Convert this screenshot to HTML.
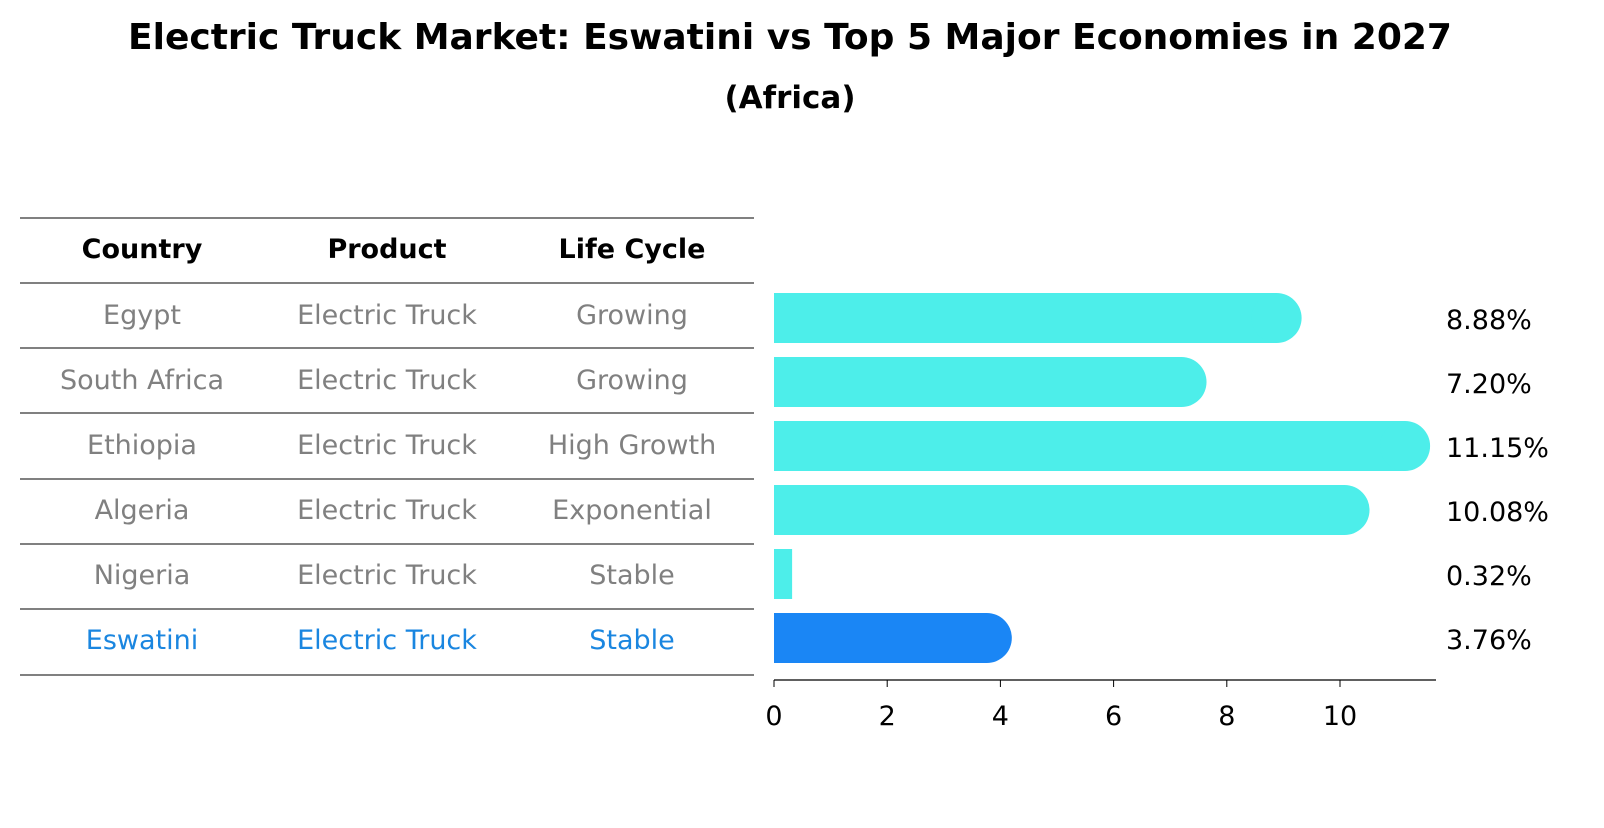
<!DOCTYPE html>
<html><head><meta charset="utf-8"><style>
body{margin:0;background:#fff;width:1604px;height:823px;overflow:hidden;font-family:"Liberation Sans","DejaVu Sans",sans-serif}
</style></head><body>
<svg width="1604" height="823" xmlns="http://www.w3.org/2000/svg">
<text x="790" y="49" text-anchor="middle" font-size="36" font-weight="bold" font-family="DejaVu Sans, sans-serif">Electric Truck Market: Eswatini vs Top 5 Major Economies in 2027</text>
<text x="790" y="108" text-anchor="middle" font-size="31" font-weight="bold" font-family="DejaVu Sans, sans-serif">(Africa)</text>
<g id="table"></g>
<g id="bars"></g>
</svg>
<script>
const countries=["Egypt","South Africa","Ethiopia","Algeria","Nigeria","Eswatini"];
const products=["Electric Truck","Electric Truck","Electric Truck","Electric Truck","Electric Truck","Electric Truck"];
const lifecycles=["Growing","Growing","High Growth","Exponential","Stable","Stable"];
const values=[8.88,7.20,11.15,10.08,0.32,3.76];
const ticks=[0,2,4,6,8,10];
const NS="http://www.w3.org/2000/svg";
const FONT="DejaVu Sans, sans-serif";
const FS=27;
function mk(t,a,p){const e=document.createElementNS(NS,t);for(const k in a)e.setAttribute(k,a[k]);p.appendChild(e);return e;}
const tbl=document.getElementById('table');
const lineYs=[218,283,348,413,479,544,609,675];
lineYs.forEach(y=>{const l=mk('line',{x1:20,x2:754,y1:y,y2:y,stroke:'#000','stroke-width':1},tbl);

});
const colX=[142,387,632];
["Country","Product","Life Cycle"].forEach((h,i)=>{const t=mk('text',{x:colX[i],y:258,'text-anchor':'middle','font-size':FS,'font-weight':'bold','font-family':FONT},tbl);t.textContent=h;

});
const rowY=i=>315+i*65;
countries.forEach((c,i)=>{const col=i===countries.length-1?'#1a86e0':'#808080';
[c,products[i],lifecycles[i]].forEach((s,j)=>{const t=mk('text',{x:colX[j],y:rowY(i)+9,'text-anchor':'middle','font-size':FS,fill:col,'font-family':FONT},tbl);t.textContent=s;

});});
const g=document.getElementById('bars');
const x0=774,sc=56.6;const xs=v=>x0+v*sc;
const barY=i=>318+i*64;const bh=50;
values.forEach((v,i)=>{const col=i===values.length-1?'#1a86f5':'#4deeea';
const r=mk('rect',{x:x0,y:barY(i)-bh/2,width:xs(v)-x0,height:bh,fill:col},g);


if(v>=1){const c=mk('circle',{cx:xs(v),cy:barY(i),r:bh/2,fill:col},g);

}
const t=mk('text',{x:1446,y:barY(i)+11,'font-size':FS,'font-family':FONT},g);t.textContent=v.toFixed(2)+'%';

});
const ax=mk('line',{x1:x0,x2:1436,y1:680,y2:680,stroke:'#000','stroke-width':1.2},g);


ticks.forEach(tv=>{const l=mk('line',{x1:xs(tv),x2:xs(tv),y1:680,y2:687,stroke:'#000'},g);


const t=mk('text',{x:xs(tv),y:725,'text-anchor':'middle','font-size':FS,'font-family':FONT},g);t.textContent=tv;

});
</script>
</body></html>
